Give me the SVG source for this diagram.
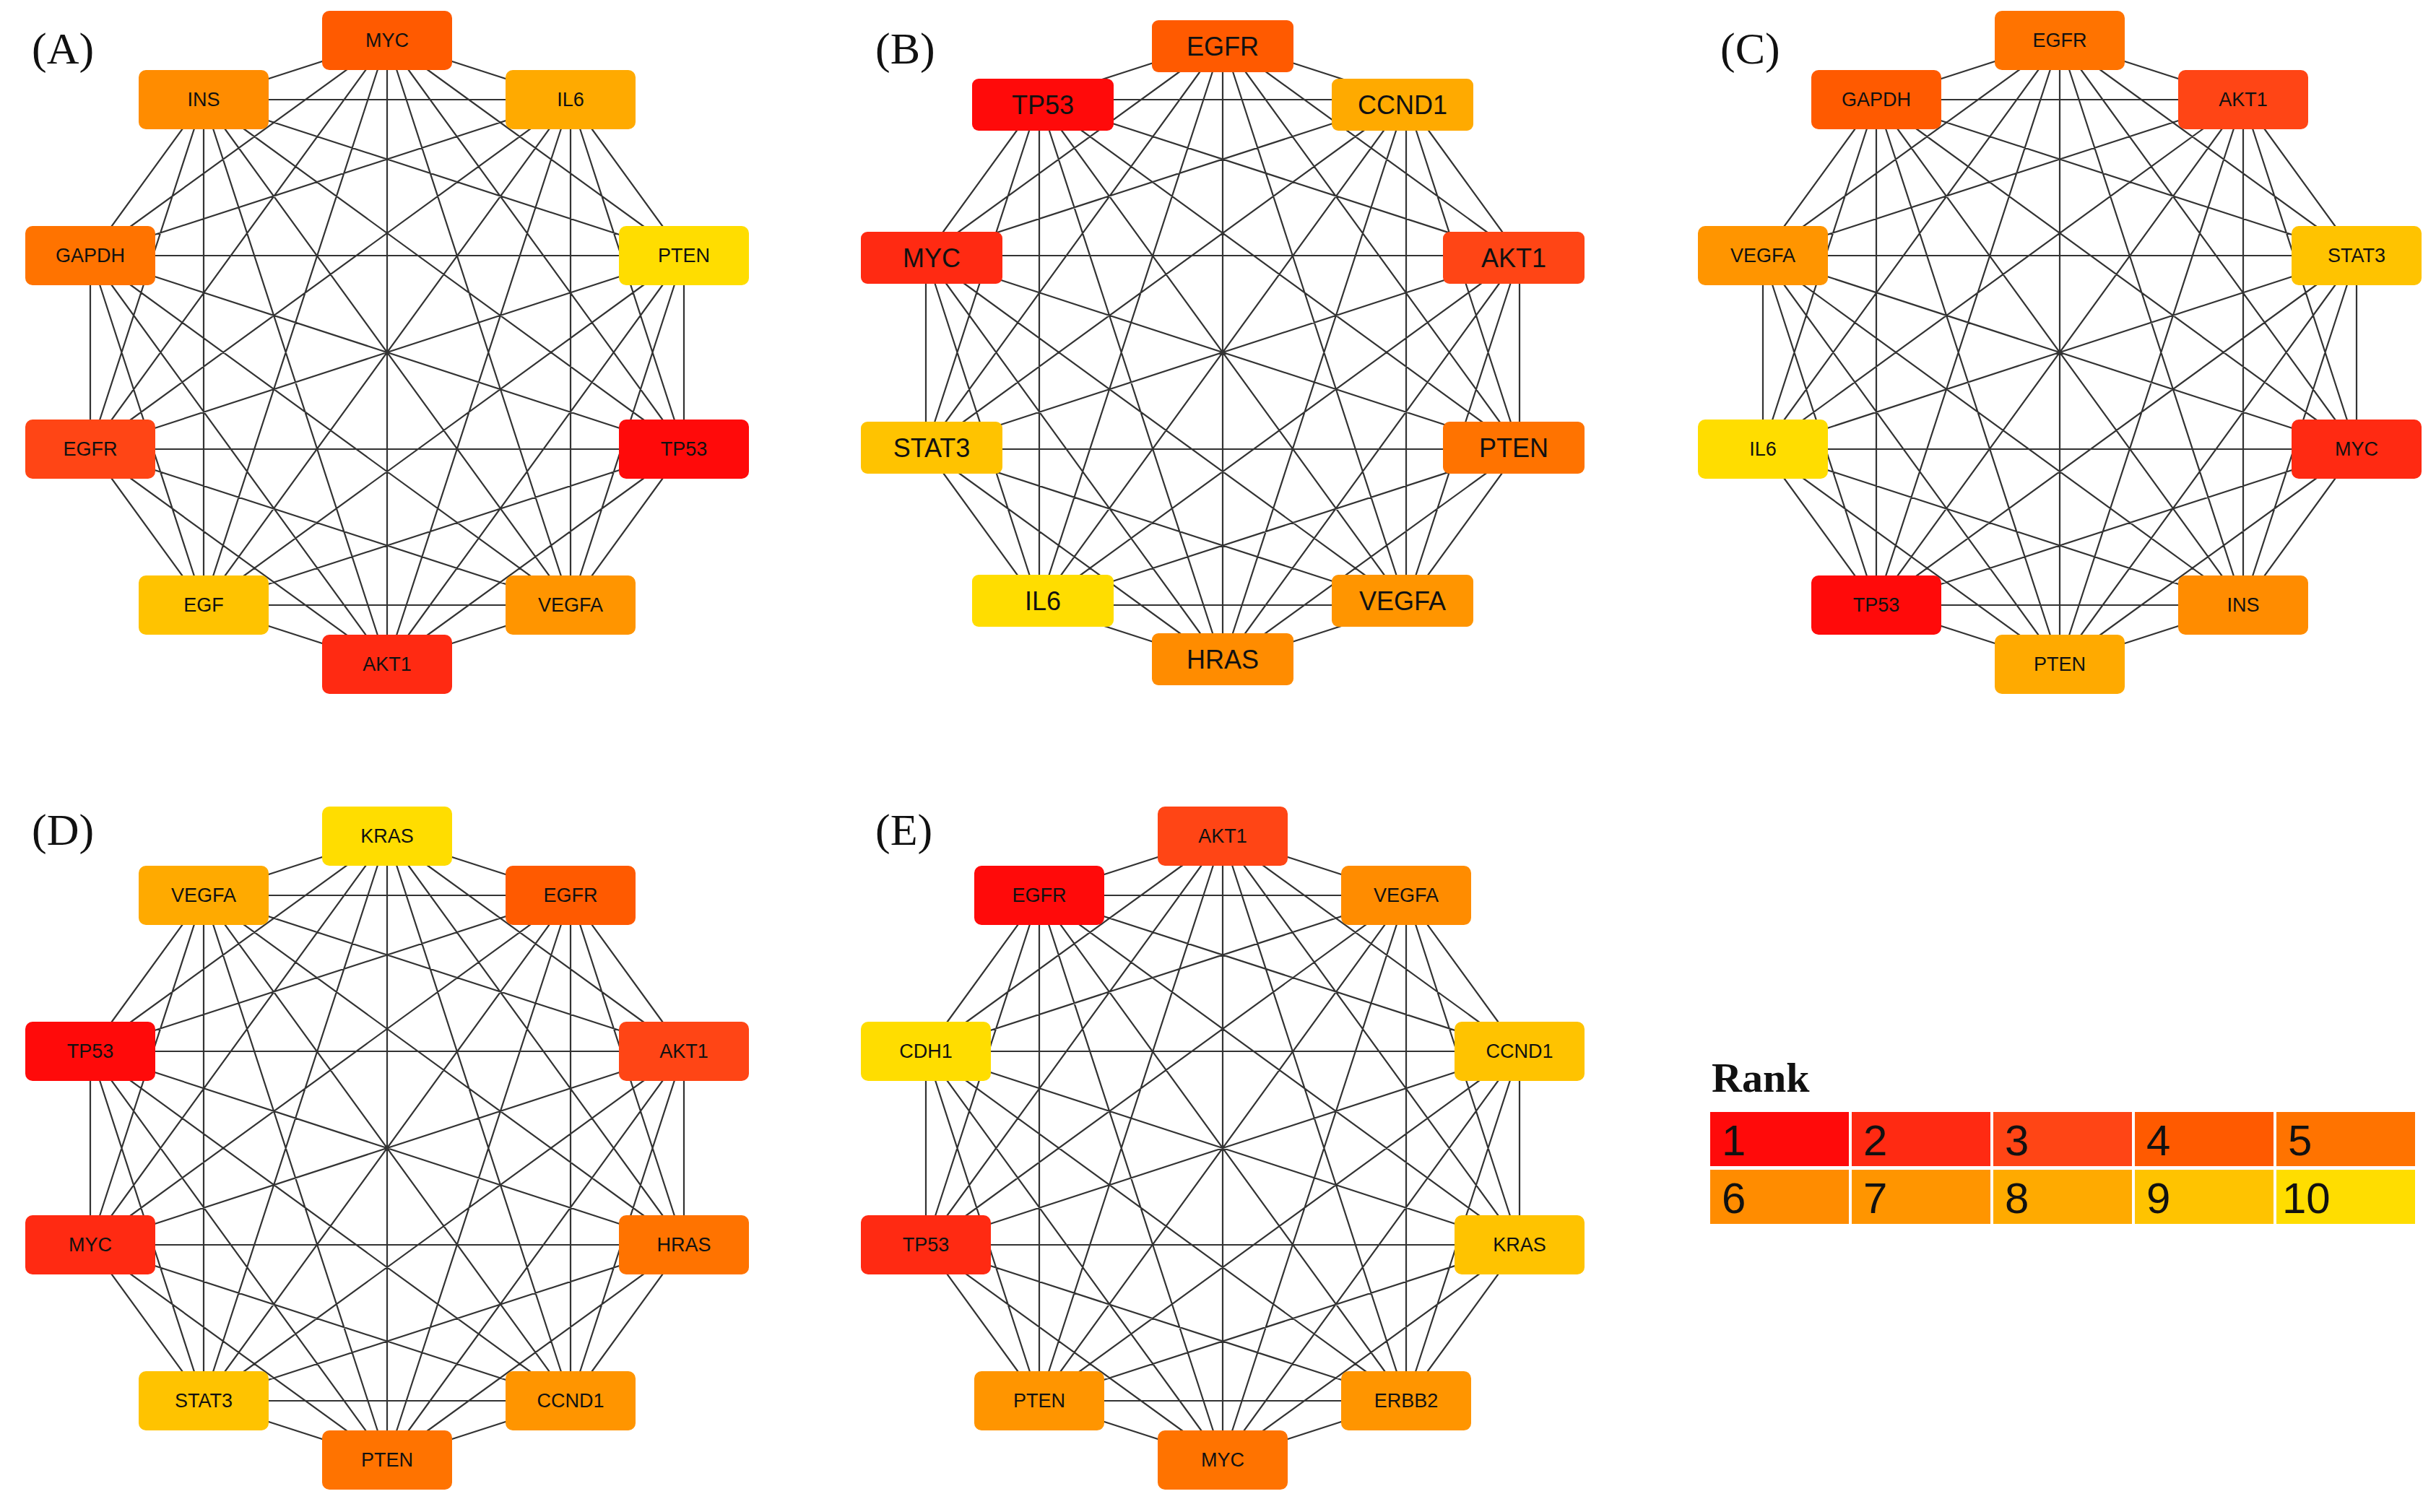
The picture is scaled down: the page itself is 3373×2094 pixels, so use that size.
<svg xmlns="http://www.w3.org/2000/svg" xmlns:xlink="http://www.w3.org/1999/xlink" width="3373" height="2094" viewBox="0 0 3373 2094">
<style>
.e{fill:none;stroke:#333;stroke-width:2.2;stroke-linejoin:round}
.n text{font-family:"Liberation Sans",Arial,sans-serif;font-size:27px;text-anchor:middle;dominant-baseline:central;fill:#111}
.b text{font-size:36px}
.lab{font-family:"Liberation Serif","Times New Roman",serif;font-size:62px;fill:#111}
.r1{fill:#FF0A0A}.r2{fill:#FF2A12}.r3{fill:#FF4515}.r4{fill:#FF5A00}.r5{fill:#FF7300}
.r6{fill:#FF8C00}.r7{fill:#FF9500}.r8{fill:#FFAA00}.r9{fill:#FFC300}.r10{fill:#FFDD00}
.leg text{font-family:"Liberation Sans",Arial,sans-serif;font-size:60px;fill:#111}
</style>
<defs>
<path id="k10" class="e" d="M0,-432 L254,-350 0,-432 411,-134 0,-432 411,134 0,-432 254,350 0,-432 0,432 0,-432 -254,350 0,-432 -411,134 0,-432 -411,-134 0,-432 -254,-350
M254,-350 L411,-134 254,-350 411,134 254,-350 254,350 254,-350 0,432 254,-350 -254,350 254,-350 -411,134 254,-350 -411,-134 254,-350 -254,-350
M411,-134 L411,134 411,-134 254,350 411,-134 0,432 411,-134 -254,350 411,-134 -411,134 411,-134 -411,-134 411,-134 -254,-350
M411,134 L254,350 411,134 0,432 411,134 -254,350 411,134 -411,134 411,134 -411,-134 411,134 -254,-350
M254,350 L0,432 254,350 -254,350 254,350 -411,134 254,350 -411,-134 254,350 -254,-350
M0,432 L-254,350 0,432 -411,134 0,432 -411,-134 0,432 -254,-350
M-254,350 L-411,134 -254,350 -411,-134 -254,350 -254,-350
M-411,134 L-411,-134 -411,134 -254,-350
M-411,-134 L-254,-350"/>
<rect id="bx" x="-90" y="-41" width="180" height="82" rx="10"/>
<rect id="bb" x="-98" y="-36" width="196" height="72" rx="9"/>
</defs>
<g id="connectors">
<use xlink:href="#k10" href="#k10" x="536" y="488"/>
<use xlink:href="#k10" href="#k10" x="1693" y="488"/>
<use xlink:href="#k10" href="#k10" x="2852" y="488"/>
<use xlink:href="#k10" href="#k10" x="536" y="1590"/>
<use xlink:href="#k10" href="#k10" x="1693" y="1590"/>
</g>
<text class="lab" x="44" y="88">(A)</text>
<text class="lab" x="1212" y="88">(B)</text>
<text class="lab" x="2382" y="88">(C)</text>
<text class="lab" x="44" y="1170">(D)</text>
<text class="lab" x="1212" y="1170">(E)</text>
<g id="A" class="n">
<g id="A-MYC" transform="translate(536,56)"><use href="#bx" class="r4"/><text>MYC</text></g>
<g id="A-IL6" transform="translate(790,138)"><use href="#bx" class="r8"/><text>IL6</text></g>
<g id="A-PTEN" transform="translate(947,354)"><use href="#bx" class="r10"/><text>PTEN</text></g>
<g id="A-TP53" transform="translate(947,622)"><use href="#bx" class="r1"/><text>TP53</text></g>
<g id="A-VEGFA" transform="translate(790,838)"><use href="#bx" class="r7"/><text>VEGFA</text></g>
<g id="A-AKT1" transform="translate(536,920)"><use href="#bx" class="r2"/><text>AKT1</text></g>
<g id="A-EGF" transform="translate(282,838)"><use href="#bx" class="r9"/><text>EGF</text></g>
<g id="A-EGFR" transform="translate(125,622)"><use href="#bx" class="r3"/><text>EGFR</text></g>
<g id="A-GAPDH" transform="translate(125,354)"><use href="#bx" class="r5"/><text>GAPDH</text></g>
<g id="A-INS" transform="translate(282,138)"><use href="#bx" class="r6"/><text>INS</text></g>
</g>
<g id="B" class="n b">
<g id="B-EGFR" transform="translate(1693,64)"><use href="#bb" class="r4"/><text>EGFR</text></g>
<g id="B-CCND1" transform="translate(1942,145)"><use href="#bb" class="r8"/><text>CCND1</text></g>
<g id="B-AKT1" transform="translate(2096,357)"><use href="#bb" class="r3"/><text>AKT1</text></g>
<g id="B-PTEN" transform="translate(2096,620)"><use href="#bb" class="r5"/><text>PTEN</text></g>
<g id="B-VEGFA" transform="translate(1942,832)"><use href="#bb" class="r7"/><text>VEGFA</text></g>
<g id="B-HRAS" transform="translate(1693,913)"><use href="#bb" class="r6"/><text>HRAS</text></g>
<g id="B-IL6" transform="translate(1444,832)"><use href="#bb" class="r10"/><text>IL6</text></g>
<g id="B-STAT3" transform="translate(1290,620)"><use href="#bb" class="r9"/><text>STAT3</text></g>
<g id="B-MYC" transform="translate(1290,357)"><use href="#bb" class="r2"/><text>MYC</text></g>
<g id="B-TP53" transform="translate(1444,145)"><use href="#bb" class="r1"/><text>TP53</text></g>
</g>
<g id="C" class="n">
<g id="C-EGFR" transform="translate(2852,56)"><use href="#bx" class="r5"/><text>EGFR</text></g>
<g id="C-AKT1" transform="translate(3106,138)"><use href="#bx" class="r3"/><text>AKT1</text></g>
<g id="C-STAT3" transform="translate(3263,354)"><use href="#bx" class="r9"/><text>STAT3</text></g>
<g id="C-MYC" transform="translate(3263,622)"><use href="#bx" class="r2"/><text>MYC</text></g>
<g id="C-INS" transform="translate(3106,838)"><use href="#bx" class="r6"/><text>INS</text></g>
<g id="C-PTEN" transform="translate(2852,920)"><use href="#bx" class="r8"/><text>PTEN</text></g>
<g id="C-TP53" transform="translate(2598,838)"><use href="#bx" class="r1"/><text>TP53</text></g>
<g id="C-IL6" transform="translate(2441,622)"><use href="#bx" class="r10"/><text>IL6</text></g>
<g id="C-VEGFA" transform="translate(2441,354)"><use href="#bx" class="r7"/><text>VEGFA</text></g>
<g id="C-GAPDH" transform="translate(2598,138)"><use href="#bx" class="r4"/><text>GAPDH</text></g>
</g>
<g id="D" class="n">
<g id="D-KRAS" transform="translate(536,1158)"><use href="#bx" class="r10"/><text>KRAS</text></g>
<g id="D-EGFR" transform="translate(790,1240)"><use href="#bx" class="r4"/><text>EGFR</text></g>
<g id="D-AKT1" transform="translate(947,1456)"><use href="#bx" class="r3"/><text>AKT1</text></g>
<g id="D-HRAS" transform="translate(947,1724)"><use href="#bx" class="r5"/><text>HRAS</text></g>
<g id="D-CCND1" transform="translate(790,1940)"><use href="#bx" class="r7"/><text>CCND1</text></g>
<g id="D-PTEN" transform="translate(536,2022)"><use href="#bx" class="r5"/><text>PTEN</text></g>
<g id="D-STAT3" transform="translate(282,1940)"><use href="#bx" class="r9"/><text>STAT3</text></g>
<g id="D-MYC" transform="translate(125,1724)"><use href="#bx" class="r2"/><text>MYC</text></g>
<g id="D-TP53" transform="translate(125,1456)"><use href="#bx" class="r1"/><text>TP53</text></g>
<g id="D-VEGFA" transform="translate(282,1240)"><use href="#bx" class="r8"/><text>VEGFA</text></g>
</g>
<g id="E" class="n">
<g id="E-AKT1" transform="translate(1693,1158)"><use href="#bx" class="r3"/><text>AKT1</text></g>
<g id="E-VEGFA" transform="translate(1947,1240)"><use href="#bx" class="r6"/><text>VEGFA</text></g>
<g id="E-CCND1" transform="translate(2104,1456)"><use href="#bx" class="r9"/><text>CCND1</text></g>
<g id="E-KRAS" transform="translate(2104,1724)"><use href="#bx" class="r9"/><text>KRAS</text></g>
<g id="E-ERBB2" transform="translate(1947,1940)"><use href="#bx" class="r7"/><text>ERBB2</text></g>
<g id="E-MYC" transform="translate(1693,2022)"><use href="#bx" class="r5"/><text>MYC</text></g>
<g id="E-PTEN" transform="translate(1439,1940)"><use href="#bx" class="r7"/><text>PTEN</text></g>
<g id="E-TP53" transform="translate(1282,1724)"><use href="#bx" class="r2"/><text>TP53</text></g>
<g id="E-CDH1" transform="translate(1282,1456)"><use href="#bx" class="r10"/><text>CDH1</text></g>
<g id="E-EGFR" transform="translate(1439,1240)"><use href="#bx" class="r1"/><text>EGFR</text></g>
</g>
<g id="legend" class="leg">
<text x="2370" y="1512" style="font-family:'Liberation Serif','Times New Roman',serif;font-weight:bold;font-size:58px">Rank</text>
<rect class="r1" x="2368" y="1540" width="192" height="75"/>
<rect class="r2" x="2564" y="1540" width="192" height="75"/>
<rect class="r3" x="2760" y="1540" width="192" height="75"/>
<rect class="r4" x="2956" y="1540" width="192" height="75"/>
<rect class="r5" x="3152" y="1540" width="192" height="75"/>
<rect class="r6" x="2368" y="1620" width="192" height="75"/>
<rect class="r7" x="2564" y="1620" width="192" height="75"/>
<rect class="r8" x="2760" y="1620" width="192" height="75"/>
<rect class="r9" x="2956" y="1620" width="192" height="75"/>
<rect class="r10" x="3152" y="1620" width="192" height="75"/>
<text x="2384" y="1600">1</text><text x="2580" y="1600">2</text><text x="2776" y="1600">3</text><text x="2972" y="1600">4</text><text x="3168" y="1600">5</text>
<text x="2384" y="1680">6</text><text x="2580" y="1680">7</text><text x="2776" y="1680">8</text><text x="2972" y="1680">9</text><text x="3160" y="1680">10</text>
</g>
</svg>
